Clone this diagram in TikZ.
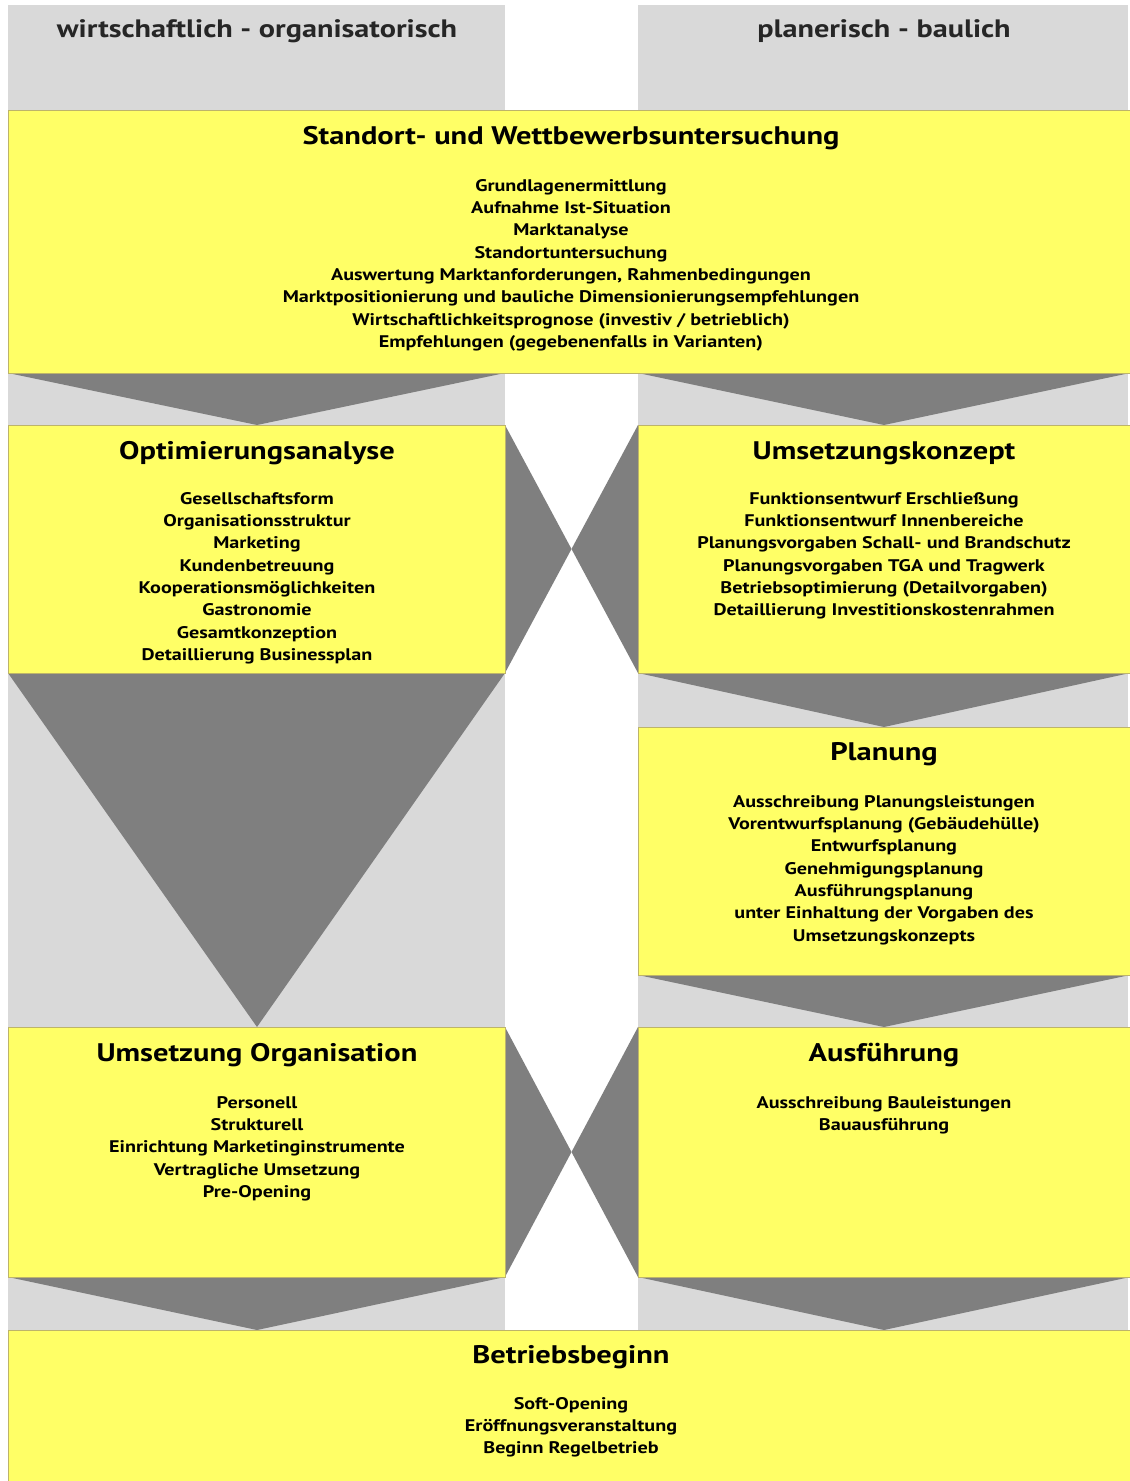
\documentclass[tikz,border=0pt]{standalone}
\usepackage{fontspec}
\setmainfont{PT Sans}[FakeStretch=1.2]
\definecolor{boxyellow}{HTML}{FFFF66}
\definecolor{colgray}{HTML}{D9D9D9}
\definecolor{darkgray}{HTML}{7F7F7F}
\definecolor{boxborder}{HTML}{BDB46A}
\begin{document}
\begin{tikzpicture}[x=1pt,y=-1pt,
  box/.style={draw=boxborder, line width=0.8pt, fill=boxyellow, inner sep=0pt, anchor=north west},
  titletext/.style={font=\bfseries\fontsize{25.4}{30}\selectfont, anchor=center},
  listtext/.style={font=\bfseries\fontsize{16.8}{22.35}\selectfont, align=center, anchor=north, inner sep=0pt},
  headtext/.style={font=\bfseries\fontsize{25.2}{28}\selectfont, text=black!85, anchor=center},
  arrowfill/.style={fill=darkgray}]
\useasboundingbox (0,0) rectangle (1130,1481);
\fill[white] (0,0) rectangle (1130,1481);
% columns
\fill[colgray] (8,5) rectangle (505,1330);
\fill[colgray] (638,5) rectangle (1128,1330);
\node[headtext] (hl) at (257,31) {wirtschaftlich - organisatorisch};
\node[headtext] (hr) at (884,31) {planerisch - baulich};
% triangles
\fill[arrowfill] (8,373) -- (505,373) -- (257,425) -- cycle;
\fill[arrowfill] (638,373) -- (1130,373) -- (884,425) -- cycle;
\fill[arrowfill] (505,425) -- (571.5,549) -- (505,673) -- cycle;
\fill[arrowfill] (638,425) -- (571.5,549) -- (638,673) -- cycle;
\fill[arrowfill] (8,673) -- (505,673) -- (257,1027) -- cycle;
\fill[arrowfill] (638,673) -- (1130,673) -- (884,727) -- cycle;
\fill[arrowfill] (638,975) -- (1130,975) -- (884,1027) -- cycle;
\fill[arrowfill] (505,1027) -- (571.5,1152) -- (505,1277) -- cycle;
\fill[arrowfill] (638,1027) -- (571.5,1152) -- (638,1277) -- cycle;
\fill[arrowfill] (8,1277) -- (505,1277) -- (257,1330) -- cycle;
\fill[arrowfill] (638,1277) -- (1130,1277) -- (884,1330) -- cycle;
% boxes
\node[box, minimum width=1122pt, minimum height=263pt] (stand) at (8,110) {};
\node[box, minimum width=497pt, minimum height=248pt] (opt) at (8,425) {};
\node[box, minimum width=492pt, minimum height=248pt] (konz) at (638,425) {};
\node[box, minimum width=492pt, minimum height=248pt] (plan) at (638,727) {};
\node[box, minimum width=497pt, minimum height=250pt] (org) at (8,1027) {};
\node[box, minimum width=492pt, minimum height=250pt] (ausf) at (638,1027) {};
\node[box, minimum width=1122pt, minimum height=152pt] (betr) at (8,1330) {};
% texts
\node[titletext] (standT) at (571,138) {Standort- und Wettbewerbsuntersuchung};
\node[listtext] (standL) at (571,179) {Grundlagenermittlung\\Aufnahme Ist-Situation\\Marktanalyse\\Standortuntersuchung\\Auswertung Marktanforderungen, Rahmenbedingungen\\Marktpositionierung und bauliche Dimensionierungsempfehlungen\\Wirtschaftlichkeitsprognose (investiv / betrieblich)\\Empfehlungen (gegebenenfalls in Varianten)};
\node[titletext] (optT) at (257,453) {Optimierungsanalyse};
\node[listtext] (optL) at (257,492) {Gesellschaftsform\\Organisationsstruktur\\Marketing\\Kundenbetreuung\\Kooperationsmöglichkeiten\\Gastronomie\\Gesamtkonzeption\\Detaillierung Businessplan};
\node[titletext] (konzT) at (884,453) {Umsetzungskonzept};
\node[listtext] (konzL) at (884,492) {Funktionsentwurf Erschließung\\Funktionsentwurf Innenbereiche\\Planungsvorgaben Schall- und Brandschutz\\Planungsvorgaben TGA und Tragwerk\\Betriebsoptimierung (Detailvorgaben)\\Detaillierung Investitionskostenrahmen};
\node[titletext] (planT) at (884,754) {Planung};
\node[listtext] (planL) at (884,795) {Ausschreibung Planungsleistungen\\Vorentwurfsplanung (Gebäudehülle)\\Entwurfsplanung\\Genehmigungsplanung\\Ausführungsplanung\\unter Einhaltung der Vorgaben des\\Umsetzungskonzepts};
\node[titletext] (orgT) at (257,1055) {Umsetzung Organisation};
\node[listtext] (orgL) at (257,1096) {Personell\\Strukturell\\Einrichtung Marketinginstrumente\\Vertragliche Umsetzung\\Pre-Opening};
\node[titletext] (ausfT) at (884,1055) {Ausführung};
\node[listtext] (ausfL) at (884,1096) {Ausschreibung Bauleistungen\\Bauausführung};
\node[titletext] (betrT) at (571,1357) {Betriebsbeginn};
\node[listtext] (betrL) at (571,1397) {Soft-Opening\\Eröffnungsveranstaltung\\Beginn Regelbetrieb};
\end{tikzpicture}
\end{document}
